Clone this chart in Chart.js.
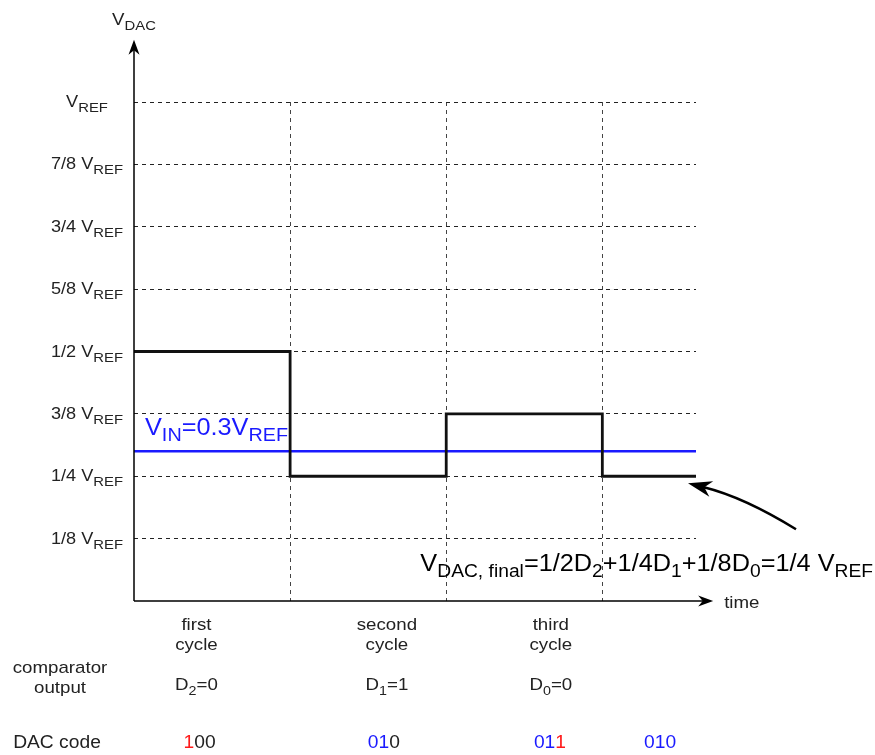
<!DOCTYPE html>
<html>
<head>
<meta charset="utf-8">
<title>SAR ADC DAC output</title>
<script src="https://cdn.jsdelivr.net/npm/chart.js@4.4.1/dist/chart.umd.min.js"></script>
<style>
  html, body { margin: 0; padding: 0; background: #fff; }
  canvas { display: block; }
</style>
</head>
<body>
<canvas id="dacChart" width="875" height="755"></canvas>
<script>
// DAC output, in fractions of V_REF, held until the next time mark
const dacTime = [0, 1, 2, 3, 3.6];
const dacVolts = [0.5, 0.25, 0.375, 0.25, 0.25];

// Input voltage line
const vinTime = [0, 3.6];
const vinVolts = [0.3, 0.3];

// Cycle boundaries (vertical dashed lines)
const cycleBounds = [1, 2, 3];

// Y ticks and their labels: [main text, subscript]
const yTicks = [1 / 8, 2 / 8, 3 / 8, 4 / 8, 5 / 8, 6 / 8, 7 / 8, 1];
const yTickLabels = [
  ["1/8 V", "REF"], ["1/4 V", "REF"], ["3/8 V", "REF"], ["1/2 V", "REF"],
  ["5/8 V", "REF"], ["3/4 V", "REF"], ["7/8 V", "REF"], ["V", "REF"]
];

// Labels under the time axis (x in cycle units)
const cycleNames = [["first", "cycle"], ["second", "cycle"], ["third", "cycle"]];
const cycleNameX = [0.4, 1.62, 2.67];
const compOutputs = [["D", "2", "=0"], ["D", "1", "=1"], ["D", "0", "=0"]];
const codeX = [0.42, 1.6, 2.66, 3.37];
// each code as digits with colour flag: k = black, r = red, b = blue
const dacCodes = [
  [["1", "r"], ["0", "k"], ["0", "k"]],
  [["0", "b"], ["1", "b"], ["0", "k"]],
  [["0", "b"], ["1", "b"], ["1", "r"]],
  [["0", "b"], ["1", "b"], ["0", "b"]]
];

const FONT = '"Liberation Sans", Arial, Helvetica, sans-serif';
const STRETCH = 1.1; // the original text renders a little wider than Arial
const colours = { k: "#222", r: "#ff1a1a", b: "#1a1aff" };

// draw a run of [text, isSub] parts; align: left | right | center
function drawRich(ctx, parts, x, y, size, subSize, align, color, subDrop) {
  const drop = subDrop === undefined ? size * 0.3 : subDrop;
  ctx.save();
  ctx.fillStyle = color;
  ctx.textBaseline = "alphabetic";
  ctx.textAlign = "left";
  let total = 0;
  const widths = parts.map(p => {
    ctx.font = (p[1] ? subSize : size) + "px " + FONT;
    const w = ctx.measureText(p[0]).width;
    total += w;
    return w;
  });
  let sx = x;
  if (align === "right") sx = x - total * STRETCH;
  if (align === "center") sx = x - total * STRETCH / 2;
  ctx.translate(sx, y);
  ctx.scale(STRETCH, 1);
  let cx = 0;
  parts.forEach((p, i) => {
    ctx.font = (p[1] ? subSize : size) + "px " + FONT;
    ctx.fillText(p[0], cx, p[1] ? drop : 0);
    cx += widths[i];
  });
  ctx.restore();
  return total * STRETCH;
}

function arrowHead(ctx, x, y, angle, len, half) {
  ctx.save();
  ctx.translate(x, y);
  ctx.rotate(angle);
  ctx.beginPath();
  ctx.moveTo(0, 0);
  ctx.lineTo(-len, -half);
  ctx.lineTo(-len * 0.7, 0);
  ctx.lineTo(-len, half);
  ctx.closePath();
  ctx.fill();
  ctx.restore();
}

const annotations = {
  id: "annotations",
  afterDraw(chart) {
    const ctx = chart.ctx;
    const xs = chart.scales.x;
    const ys = chart.scales.y;
    const x0 = xs.getPixelForValue(0);
    const y0 = ys.getPixelForValue(0);

    // axes with arrows
    ctx.save();
    ctx.strokeStyle = "#000";
    ctx.fillStyle = "#000";
    ctx.lineWidth = 1.5;
    const yTop = ys.getPixelForValue(1.125);
    const xEnd = xs.getPixelForValue(3.71);
    ctx.beginPath();
    ctx.moveTo(x0, y0);
    ctx.lineTo(x0, yTop + 6);
    ctx.moveTo(x0, y0);
    ctx.lineTo(xEnd - 6, y0);
    ctx.stroke();
    arrowHead(ctx, x0, yTop, -Math.PI / 2, 15, 5.5);
    arrowHead(ctx, xEnd, y0, 0, 15, 5.5);
    ctx.restore();

    // y tick labels, centred in the left margin
    yTicks.forEach((v, i) => {
      drawRich(ctx, [[yTickLabels[i][0], false], [yTickLabels[i][1], true]],
        x0 - 47, ys.getPixelForValue(v) + 5, 16.5, 13.5, "center", "#222", 5);
    });

    // axis titles
    drawRich(ctx, [["V", false], ["DAC", true]], x0, 25, 17, 13.5, "center", "#222", 5);
    drawRich(ctx, [["time", false]], xEnd + 11, y0 + 7, 17, 13, "left", "#222");

    // V_IN label
    drawRich(ctx, [["V", false], ["IN", true], ["=0.3V", false], ["REF", true]],
      x0 + 11, ys.getPixelForValue(vinVolts[0]) - 16, 23, 18, "left", "#1a1aff", 6);

    // final value formula
    drawRich(ctx, [["V", false], ["DAC, final", true], ["=1/2D", false], ["2", true],
      ["+1/4D", false], ["1", true], ["+1/8D", false], ["0", true], ["=1/4 V", false], ["REF", true]],
      873, ys.getPixelForValue(0.06), 23, 17.5, "right", "#000", 6);

    // curved pointer to final value
    const tip = { x: xs.getPixelForValue(3.6) - 8, y: ys.getPixelForValue(0.25) + 7 };
    const tail = { x: tip.x + 108, y: tip.y + 46 };
    ctx.save();
    ctx.strokeStyle = "#000";
    ctx.fillStyle = "#000";
    ctx.lineWidth = 2.5;
    ctx.beginPath();
    ctx.moveTo(tail.x, tail.y);
    ctx.quadraticCurveTo(tail.x - 52, tip.y + 14, tip.x + 16, tip.y + 4);
    ctx.stroke();
    arrowHead(ctx, tip.x, tip.y, Math.atan2(-4, -16), 24, 8);
    ctx.restore();

    // rows below the axis
    cycleNames.forEach((n, i) => {
      const cx = xs.getPixelForValue(cycleNameX[i]);
      drawRich(ctx, [[n[0], false]], cx, y0 + 29, 17, 13, "center", "#222");
      drawRich(ctx, [[n[1], false]], cx, y0 + 49, 17, 13, "center", "#222");
    });
    drawRich(ctx, [["comparator", false]], 60, y0 + 72, 17, 13, "center", "#222");
    drawRich(ctx, [["output", false]], 60, y0 + 92, 17, 13, "center", "#222");
    compOutputs.forEach((d, i) => {
      drawRich(ctx, [[d[0], false], [d[1], true], [d[2], false]],
        xs.getPixelForValue(cycleNameX[i]), y0 + 89, 17, 13, "center", "#222", 5);
    });
    drawRich(ctx, [["DAC code", false]], 57, y0 + 147, 17.5, 13, "center", "#222");
    dacCodes.forEach((code, i) => {
      ctx.save();
      ctx.font = "17.5px " + FONT;
      const w = ctx.measureText(code.map(c => c[0]).join("")).width * STRETCH;
      let cx = xs.getPixelForValue(codeX[i]) - w / 2;
      code.forEach(c => {
        cx += drawRich(ctx, [[c[0], false]], cx, y0 + 147, 17.5, 13, "left", colours[c[1]]);
      });
      ctx.restore();
    });
  }
};

new Chart(document.getElementById("dacChart").getContext("2d"), {
  type: "line",
  data: {
    datasets: [
      {
        label: "V_IN",
        data: vinTime.map((t, i) => ({ x: t, y: vinVolts[i] })),
        borderColor: "#1a1aff",
        borderWidth: 2.5,
        pointRadius: 0,
        order: 2
      },
      {
        label: "V_DAC",
        data: dacTime.map((t, i) => ({ x: t, y: dacVolts[i] })),
        borderColor: "#111",
        borderWidth: 2.8,
        stepped: "before",
        pointRadius: 0,
        order: 1
      }
    ]
  },
  options: {
    responsive: false,
    animation: false,
    events: [],
    layout: { padding: { left: 134, right: 179, top: 102, bottom: 154 } },
    plugins: {
      legend: { display: false },
      tooltip: { enabled: false }
    },
    scales: {
      x: {
        type: "linear",
        min: 0,
        max: 3.6,
        afterBuildTicks: scale => { scale.ticks = cycleBounds.map(v => ({ value: v })); },
        ticks: { display: false },
        grid: { color: "#444", lineWidth: 1, drawTicks: false },
        border: { display: false, dash: [4, 4] }
      },
      y: {
        type: "linear",
        min: 0,
        max: 1,
        afterBuildTicks: scale => { scale.ticks = yTicks.map(v => ({ value: v })); },
        ticks: { display: false },
        grid: { color: "#222", lineWidth: 1, drawTicks: false },
        border: { display: false, dash: [4, 4] }
      }
    }
  },
  plugins: [annotations]
});
</script>
</body>
</html>
